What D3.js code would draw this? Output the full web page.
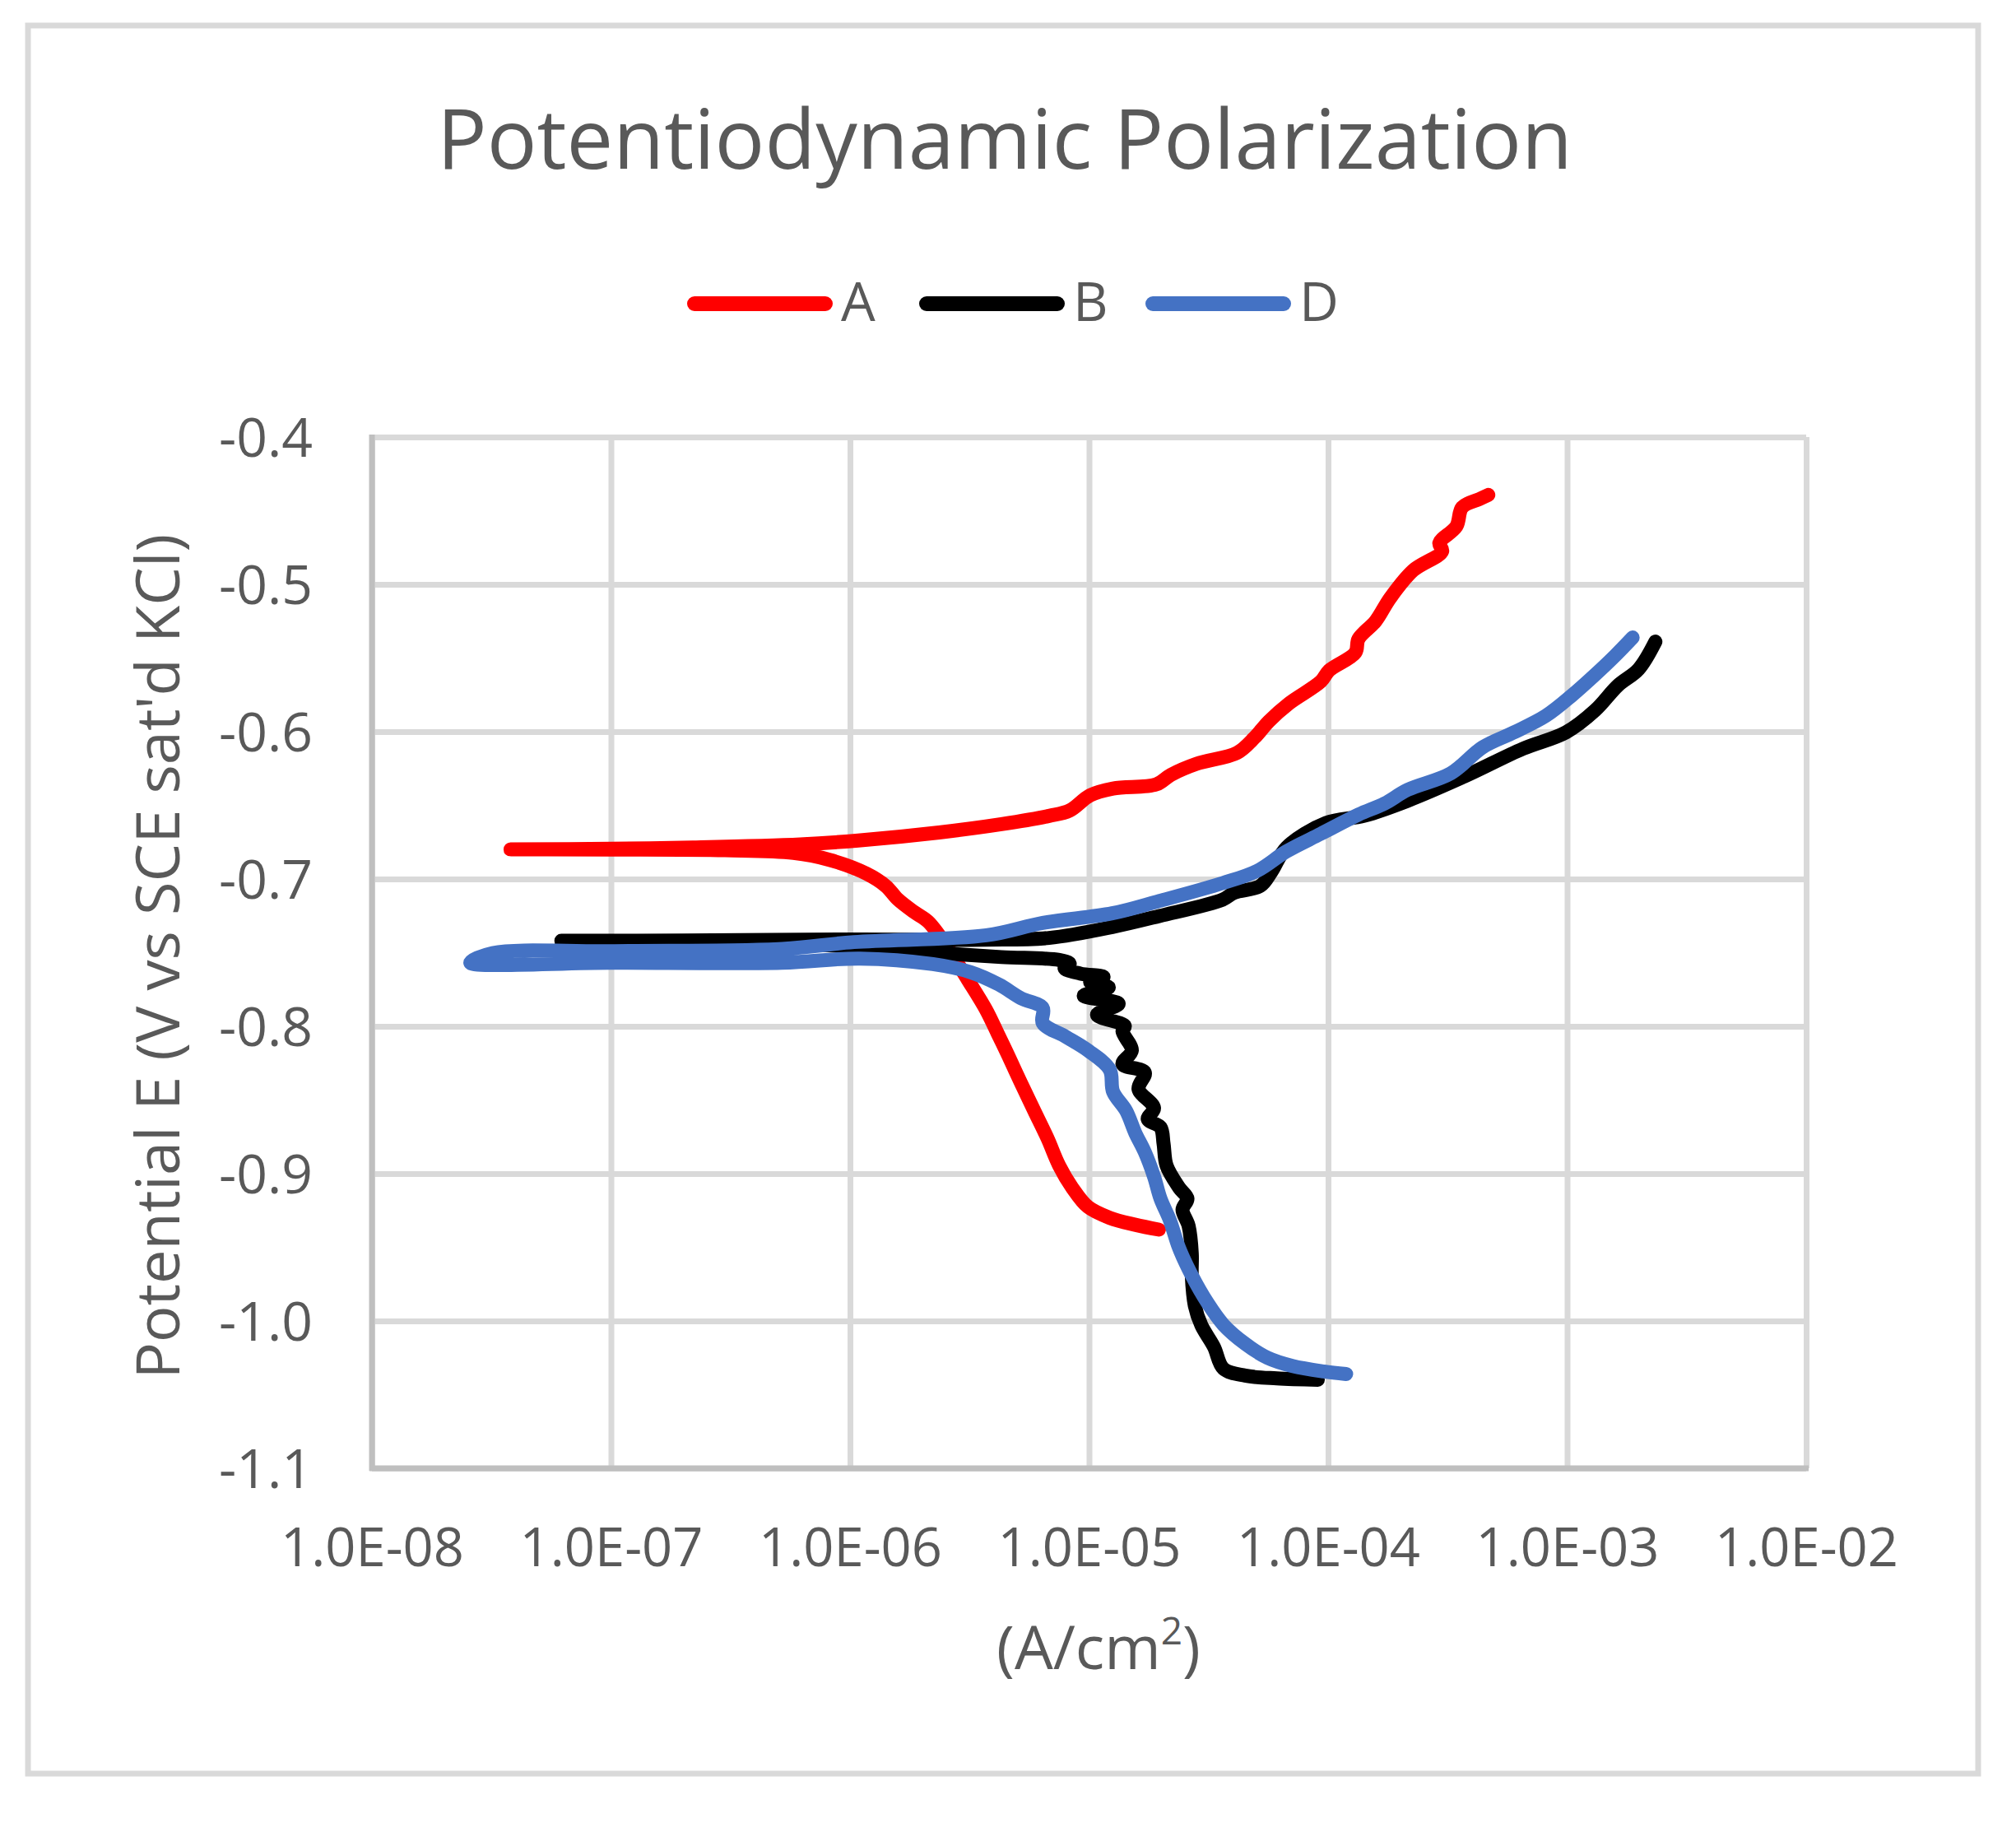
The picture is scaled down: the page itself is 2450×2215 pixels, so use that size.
<!DOCTYPE html>
<html>
<head>
<meta charset="utf-8">
<script src="https://cdn.jsdelivr.net/npm/d3@7"></script>
<style>
  html, body { margin: 0; padding: 0; background: #ffffff; }
  svg { display: block; }
</style>
</head>
<body>
<svg id="chart" width="2450" height="2215"></svg>
<script>
// ---------------- data (current density A/cm², potential V) ----------------
const seriesNames = ["A", "B", "D"];
const seriesColors = ["#ff0000", "#000000", "#4472c4"];

// path order: cathodic end -> corrosion potential (minimum current) -> anodic end
const seriesA = [
  [1.96e-5, -0.938], [1.56e-5, -0.9347], [1.22e-5, -0.930], [9.9e-6, -0.9226],
  [8.5e-6, -0.9095], [7.5e-6, -0.8946], [6.7e-6, -0.876], [5.9e-6, -0.8574],
  [5.2e-6, -0.8388], [4.6e-6, -0.8201], [4.15e-6, -0.805], [3.7e-6, -0.7885],
  [3.1e-6, -0.768], [2.67e-6, -0.7512], [2.36e-6, -0.7382], [2.12e-6, -0.7289],
  [1.85e-6, -0.7223], [1.59e-6, -0.714], [1.41e-6, -0.7047], [1.17e-6, -0.6963],
  [8.2e-7, -0.687], [5.8e-7, -0.6823], [3.0e-7, -0.6805], [1.0e-7, -0.6800],
  [3.8e-8, -0.6799],
  [1.0e-7, -0.6795], [2.2e-7, -0.6786], [6.2e-7, -0.6765], [1.06e-6, -0.674],
  [2.36e-6, -0.6684], [4.3e-6, -0.6628], [6.8e-6, -0.6572], [8.3e-6, -0.6535],
  [1.01e-5, -0.6432], [1.26e-5, -0.6386], [1.91e-5, -0.6358], [2.2e-5, -0.6293],
  [2.82e-5, -0.6218], [4.16e-5, -0.6144], [4.92e-5, -0.6041], [5.65e-5, -0.593],
  [6.87e-5, -0.5808], [9.33e-5, -0.5659], [1.01e-4, -0.5585], [1.30e-4, -0.5464],
  [1.34e-4, -0.5371], [1.58e-4, -0.525], [1.82e-4, -0.5092], [2.27e-4, -0.4905],
  [3.0e-4, -0.4775], [2.92e-4, -0.4719], [3.44e-4, -0.4607], [3.64e-4, -0.4477],
  [4.3e-4, -0.4421], [4.68e-4, -0.4393]
];

const seriesB = [
  [9.06e-5, -1.0399], [6.1e-5, -1.039], [4.5e-5, -1.0371], [3.65e-5, -1.0324],
  [3.33e-5, -1.0176], [2.95e-5, -1.003], [2.77e-5, -0.9896], [2.69e-5, -0.9691],
  [2.69e-5, -0.9542], [2.61e-5, -0.9356], [2.46e-5, -0.9244], [2.58e-5, -0.917],
  [2.38e-5, -0.9095], [2.11e-5, -0.8946], [2.05e-5, -0.8797], [1.99e-5, -0.8685],
  [1.76e-5, -0.863], [1.87e-5, -0.8555], [1.61e-5, -0.8425], [1.71e-5, -0.8313],
  [1.38e-5, -0.8257], [1.51e-5, -0.8164], [1.38e-5, -0.8034], [1.41e-5, -0.7997],
  [1.08e-5, -0.7922], [1.33e-5, -0.7847], [9.5e-6, -0.7792], [1.21e-5, -0.7736],
  [1.01e-5, -0.7698], [1.15e-5, -0.7665], [9.2e-6, -0.7642], [7.9e-6, -0.7606],
  [8.3e-6, -0.7575], [7.5e-6, -0.755], [4.3e-6, -0.753],
  [2.36e-6, -0.7503], [1.2e-6, -0.7465], [4.0e-7, -0.743],
  [6.2e-8, -0.7419],
  [2.0e-7, -0.7418], [1.06e-6, -0.741], [3.7e-6, -0.7412], [6.8e-6, -0.740],
  [1.25e-5, -0.7326], [1.97e-5, -0.7251], [3.62e-5, -0.714], [4.05e-5, -0.7093],
  [5.2e-5, -0.7047], [5.8e-5, -0.695], [6.7e-5, -0.6786], [9.8e-5, -0.662],
  [1.42e-4, -0.657], [2.15e-4, -0.6469], [3.74e-4, -0.6302], [6.53e-4, -0.6116],
  [9.9e-4, -0.6004], [1.31e-3, -0.5855], [1.63e-3, -0.5687], [1.99e-3, -0.5576],
  [2.34e-3, -0.5389]
];

const seriesD = [
  [1.19e-4, -1.036], [9.6e-5, -1.0343], [7.1e-5, -1.0306], [5.58e-5, -1.025],
  [4.51e-5, -1.0156], [3.65e-5, -1.0026], [3.13e-5, -0.9877], [2.69e-5, -0.9691],
  [2.38e-5, -0.9505], [2.18e-5, -0.9318], [1.99e-5, -0.917], [1.87e-5, -0.902],
  [1.71e-5, -0.8853], [1.56e-5, -0.8723], [1.43e-5, -0.8574], [1.26e-5, -0.8443],
  [1.22e-5, -0.8294], [9.9e-6, -0.8164], [8.0e-6, -0.8071], [6.4e-6, -0.7978],
  [6.4e-6, -0.7875], [5.2e-6, -0.781], [4.2e-6, -0.7717], [3.2e-6, -0.7633],
  [2.22e-6, -0.7578], [1.1e-6, -0.754], [5.2e-7, -0.7568], [1.0e-7, -0.7568],
  [2.58e-8, -0.7568],
  [3.2e-8, -0.7503], [1.0e-7, -0.749], [5.2e-7, -0.7475], [1.04e-6, -0.7428],
  [3.72e-6, -0.7382], [6.4e-6, -0.7298], [1.25e-5, -0.7233], [1.97e-5, -0.7149],
  [3.62e-5, -0.7028], [5.06e-5, -0.6944], [6.68e-5, -0.6814], [9.33e-5, -0.6693],
  [1.34e-4, -0.6563], [1.72e-4, -0.6488], [2.15e-4, -0.6395], [3.26e-4, -0.6283],
  [4.43e-4, -0.6106], [6.01e-4, -0.6004], [8.15e-4, -0.5892], [1.05e-3, -0.5752],
  [1.31e-3, -0.5613], [1.59e-3, -0.5483], [1.88e-3, -0.5361]
];

const xTickValues = [1e-8, 1e-7, 1e-6, 1e-5, 1e-4, 1e-3, 1e-2];
const yTickValues = [-1.1, -1.0, -0.9, -0.8, -0.7, -0.6, -0.5, -0.4];

const chartTitle = "Potentiodynamic Polarization";
const yTitle = "Potential E (V vs SCE sat'd KCl)";

// ---------------- drawing ----------------
const svg = d3.select("#chart");
const FONT = "'Open Sans', 'Noto Sans', sans-serif";
const TXT = "#595959";

const plot = { left: 452, right: 2195, top: 531, bottom: 1784 };

const x = d3.scaleLog().domain([1e-8, 1e-2]).range([plot.left, plot.right]);
const y = d3.scaleLinear().domain([-1.1, -0.4]).range([plot.bottom, plot.top]);

svg.append("rect").attr("width", 2450).attr("height", 2215).attr("fill", "#ffffff");

// outer chart border
svg.append("rect")
  .attr("x", 34).attr("y", 31).attr("width", 2370).attr("height", 2124)
  .attr("fill", "none").attr("stroke", "#d9d9d9").attr("stroke-width", 7);

// gridlines
const xGrid = svg.append("g")
  .attr("transform", `translate(0,${plot.bottom})`)
  .call(d3.axisBottom(x).tickValues(xTickValues).tickSize(-(plot.bottom - plot.top)).tickFormat(""));
xGrid.select(".domain").remove();
xGrid.selectAll("line").attr("stroke", "#d9d9d9").attr("stroke-width", 7);

const yGrid = svg.append("g")
  .attr("transform", `translate(${plot.left},0)`)
  .call(d3.axisLeft(y).tickValues(yTickValues).tickSize(-(plot.right - plot.left)).tickFormat(""));
yGrid.select(".domain").remove();
yGrid.selectAll("line").attr("stroke", "#d9d9d9").attr("stroke-width", 7);

// axis lines
svg.append("line").attr("x1", plot.left).attr("x2", plot.left)
  .attr("y1", plot.top - 3).attr("y2", plot.bottom + 3)
  .attr("stroke", "#bfbfbf").attr("stroke-width", 7);
svg.append("line").attr("x1", plot.left - 3).attr("x2", plot.right + 3)
  .attr("y1", plot.bottom).attr("y2", plot.bottom)
  .attr("stroke", "#bfbfbf").attr("stroke-width", 7);

// tick labels via axes
const fmtX = v => {
  const e = Math.round(Math.log10(v));
  return "1.0E" + (e < 0 ? "-" : "+") + String(Math.abs(e)).padStart(2, "0");
};
const xAxis = svg.append("g")
  .attr("transform", `translate(0,${plot.bottom})`)
  .call(d3.axisBottom(x).tickValues(xTickValues).tickSize(0).tickPadding(0).tickFormat(fmtX));
xAxis.select(".domain").remove();
xAxis.selectAll("text")
  .attr("y", 119).attr("dy", null)
  .attr("font-family", FONT).attr("font-size", 65).attr("fill", TXT);

const yAxis = svg.append("g")
  .attr("transform", `translate(${plot.left},0)`)
  .call(d3.axisLeft(y).tickValues(yTickValues).tickSize(0).tickPadding(0).tickFormat(v => v.toFixed(1)));
yAxis.select(".domain").remove();
yAxis.selectAll("text")
  .attr("x", 380 - plot.left).attr("dy", "0.35em")
  .attr("font-family", FONT).attr("font-size", 66).attr("fill", TXT)
  .attr("text-anchor", "end");

// series lines
const line = d3.line().x(d => x(d[0])).y(d => y(d[1])).curve(d3.curveCatmullRom.alpha(0.5));
const allSeries = [seriesA, seriesB, seriesD];
svg.append("g").selectAll("path")
  .data(allSeries)
  .join("path")
  .attr("d", line)
  .attr("fill", "none")
  .attr("stroke", (d, i) => seriesColors[i])
  .attr("stroke-width", 17)
  .attr("stroke-linecap", "round")
  .attr("stroke-linejoin", "round");

// title
svg.append("text")
  .attr("x", 1221).attr("y", 205)
  .attr("text-anchor", "middle")
  .attr("font-family", FONT).attr("font-size", 101).attr("fill", TXT)
  .text(chartTitle);

// legend
const legendX = [844, 1126, 1401];
const leg = svg.append("g");
seriesNames.forEach((name, i) => {
  leg.append("line")
    .attr("x1", legendX[i]).attr("x2", legendX[i] + 159)
    .attr("y1", 369).attr("y2", 369)
    .attr("stroke", seriesColors[i]).attr("stroke-width", 18)
    .attr("stroke-linecap", "round");
  leg.append("text")
    .attr("x", legendX[i] + 178).attr("y", 390)
    .attr("font-family", FONT).attr("font-size", 66).attr("fill", TXT)
    .text(name);
});

// x axis title
const xt = svg.append("text")
  .attr("x", 1335).attr("y", 2028)
  .attr("text-anchor", "middle")
  .attr("font-family", FONT).attr("font-size", 74).attr("fill", TXT);
xt.append("tspan").text("(A/cm");
xt.append("tspan").attr("font-size", 46).attr("dy", -30).text("2");
xt.append("tspan").attr("dy", 30).text(")");

// y axis title
svg.append("text")
  .attr("transform", "translate(218,1162) rotate(-90)")
  .attr("text-anchor", "middle")
  .attr("font-family", FONT).attr("font-size", 74).attr("fill", TXT)
  .text(yTitle);
</script>
</body>
</html>
